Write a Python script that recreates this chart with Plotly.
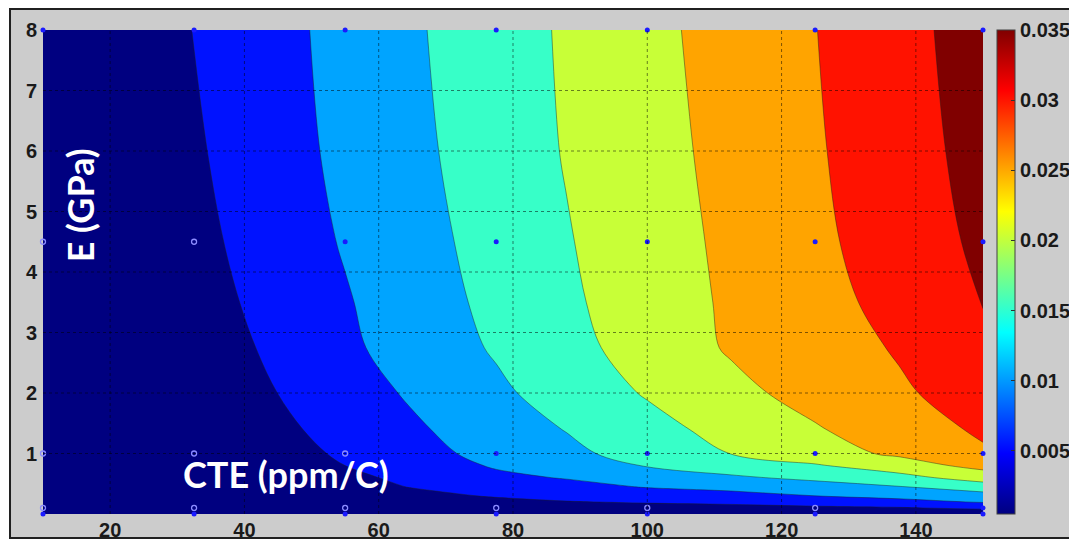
import plotly.graph_objects as go

# ---- data ----
cte = [10, 20, 32.5, 42, 55, 65, 77.5, 88, 100, 112.5, 125, 137.5, 150]          # CTE (ppm/C)
modulus = [0, 0.1, 0.2, 0.3, 0.45, 0.6, 0.8, 1.0, 1.4, 2.0, 2.75, 3.5, 4.5, 6, 8]  # E (GPa)

value = [
    [0.0005, 0.0005, 0.0005, 0.0005, 0.0005, 0.0005, 0.0005, 0.0006, 0.0007, 0.0008, 0.0008, 0.0008, 0.0010],
    [0.0005, 0.0005, 0.0005, 0.0007, 0.0010, 0.0016, 0.0022, 0.0027, 0.0034, 0.0036, 0.0041, 0.0046, 0.0060],
    [0.0005, 0.0005, 0.0005, 0.0009, 0.0016, 0.0026, 0.0038, 0.0048, 0.0054, 0.0060, 0.0071, 0.0085, 0.0104],
    [0.0005, 0.0005, 0.0005, 0.0011, 0.0022, 0.0037, 0.0054, 0.0063, 0.0074, 0.0083, 0.0100, 0.0114, 0.0131],
    [0.0005, 0.0005, 0.0005, 0.0014, 0.0033, 0.0052, 0.0071, 0.0084, 0.0103, 0.0115, 0.0131, 0.0148, 0.0175],
    [0.0005, 0.0005, 0.0005, 0.0017, 0.0040, 0.0060, 0.0089, 0.0103, 0.0125, 0.0143, 0.0160, 0.0183, 0.0223],
    [0.0005, 0.0005, 0.0005, 0.0020, 0.0050, 0.0072, 0.0105, 0.0120, 0.0153, 0.0173, 0.0195, 0.0228, 0.0265],
    [0.0005, 0.0005, 0.0005, 0.0024, 0.0057, 0.0083, 0.0115, 0.0138, 0.0171, 0.0201, 0.0231, 0.0258, 0.0294],
    [0.0005, 0.0006, 0.0008, 0.0032, 0.0067, 0.0093, 0.0125, 0.0152, 0.0184, 0.0216, 0.0246, 0.0277, 0.0307],
    [0.0005, 0.0007, 0.0015, 0.0042, 0.0078, 0.0106, 0.0141, 0.0171, 0.0204, 0.0237, 0.0267, 0.0294, 0.0320],
    [0.0005, 0.0008, 0.0022, 0.0051, 0.0091, 0.0120, 0.0155, 0.0185, 0.0220, 0.0255, 0.0279, 0.0304, 0.0338],
    [0.0005, 0.0009, 0.0030, 0.0058, 0.0096, 0.0126, 0.0162, 0.0192, 0.0225, 0.0257, 0.0284, 0.0315, 0.0352],
    [0.0005, 0.0010, 0.0037, 0.0065, 0.0104, 0.0132, 0.0168, 0.0197, 0.0228, 0.0260, 0.0290, 0.0324, 0.0359],
    [0.0005, 0.0012, 0.0044, 0.0073, 0.0111, 0.0139, 0.0174, 0.0203, 0.0233, 0.0264, 0.0295, 0.0330, 0.0366],
    [0.0005, 0.0015, 0.0051, 0.0078, 0.0115, 0.0144, 0.0178, 0.0206, 0.0237, 0.0269, 0.0299, 0.0335, 0.0371],
]

# sample points shown as markers
filled_x = [10, 32.5, 55, 77.5, 100, 125, 150,
            55, 77.5, 100, 125, 150,
            77.5, 100, 125, 150,
            10, 32.5, 55, 77.5, 100, 125, 150, 150]
filled_y = [8, 8, 8, 8, 8, 8, 8,
            4.5, 4.5, 4.5, 4.5, 4.5,
            1, 1, 1, 1,
            0, 0, 0, 0, 0, 0, 0, 0.1]
open_x = [10, 32.5, 10, 32.5, 55, 10, 32.5, 55, 77.5, 100, 125]
open_y = [4.5, 4.5, 1, 1, 1, 0.1, 0.1, 0.1, 0.1, 0.1, 0.1]

levels_start, levels_end, levels_step = 0.005, 0.035, 0.005
cbar_min, cbar_max = 0.0005, 0.035
cbar_ticks = [0.005, 0.01, 0.015, 0.02, 0.025, 0.03, 0.035]
cbar_text = ["0.005", "0.01", "0.015", "0.02", "0.025", "0.03", "0.035"]
x_ticks = [20, 40, 60, 80, 100, 120, 140]
y_ticks = [1, 2, 3, 4, 5, 6, 7, 8]

jet = [[0, "rgb(0,0,128)"], [0.125, "rgb(0,0,255)"], [0.375, "rgb(0,255,255)"],
       [0.625, "rgb(255,255,0)"], [0.875, "rgb(255,0,0)"], [1, "rgb(128,0,0)"]]

tickfont = dict(family="Liberation Sans, Arial", size=20, color="#1a1a1a", weight="bold")

fig = go.Figure()
fig.add_trace(go.Contour(
    x=cte, y=modulus, z=value,
    autocontour=False,
    contours=dict(start=levels_start, end=levels_end, size=levels_step,
                  coloring="fill", showlines=True),
    colorscale=jet, showscale=False,
    line=dict(width=0.8, color="rgba(30,30,30,0.55)", smoothing=1),
    hoverinfo="skip",
))
fig.add_trace(go.Scatter(
    x=open_x, y=open_y, mode="markers",
    marker=dict(symbol="circle-open", size=5, color="#8c8cff", line=dict(width=1.3)),
    hoverinfo="skip", showlegend=False, cliponaxis=False,
))
fig.add_trace(go.Scatter(
    x=filled_x, y=filled_y, mode="markers",
    marker=dict(symbol="circle", size=5, color="#1a1aff"),
    hoverinfo="skip", showlegend=False, cliponaxis=False,
))
# colorbar (continuous jet like the reference)
fig.add_trace(go.Scatter(
    x=[10, 10], y=[0, 0], mode="markers",
    marker=dict(size=1, opacity=0, color=[cbar_min, cbar_max], colorscale=jet,
                cmin=cbar_min, cmax=cbar_max, showscale=True,
                colorbar=dict(x=1.015, xanchor="left", xpad=0, y=0.5, yanchor="middle",
                              ypad=0, len=1, lenmode="fraction", thickness=18,
                              outlinewidth=1, outlinecolor="#404040",
                              tickvals=cbar_ticks, ticktext=cbar_text,
                              ticks="inside", ticklen=4, tickcolor="#303030",
                              tickfont=tickfont)),
    hoverinfo="skip", showlegend=False,
))

shapes = [dict(type="rect", xref="paper", yref="paper",
               x0=-0.0351, x1=1.0936, y0=-0.0496, y1=1.0434,
               fillcolor="#cccccc", line=dict(color="#202020", width=2), layer="below")]
for xv in x_ticks:
    shapes.append(dict(type="line", xref="x", yref="y", x0=xv, x1=xv, y0=0, y1=8,
                       line=dict(color="rgba(0,0,0,0.5)", width=1, dash="dot"), layer="above"))
for yv in y_ticks[:-1]:
    shapes.append(dict(type="line", xref="x", yref="y", x0=10, x1=150, y0=yv, y1=yv,
                       line=dict(color="rgba(0,0,0,0.5)", width=1, dash="dot"), layer="above"))

# page body has an 8px margin, so the figure is 8px smaller than the window
fig.update_layout(
    width=1069, height=532,
    margin=dict(l=35, r=94, t=22, b=26, autoexpand=False),
    paper_bgcolor="white", plot_bgcolor="#cccccc",
    showlegend=False,
    shapes=shapes,
    xaxis=dict(range=[10, 150], tickvals=x_ticks, showgrid=False, zeroline=False,
               ticks="", tickfont=tickfont, ticklabelstandoff=2, showline=False,
               automargin=False),
    yaxis=dict(range=[0, 8], tickvals=y_ticks, showgrid=False, zeroline=False,
               ticks="", tickfont=tickfont, ticklabelstandoff=5, showline=False,
               automargin=False),
    annotations=[
        dict(text="E (GPa)", xref="paper", yref="paper", x=0.0395, y=0.638,
             xanchor="center", yanchor="middle", textangle=-90, showarrow=False,
             font=dict(family="Lato", size=36, color="white", weight="bold")),
        dict(text="CTE (ppm/C)", xref="paper", yref="paper", x=0.2585, y=0.082,
             xanchor="center", yanchor="middle", showarrow=False,
             font=dict(family="Lato", size=36, color="white", weight="bold")),
    ],
)

fig.write_html("out.html")
